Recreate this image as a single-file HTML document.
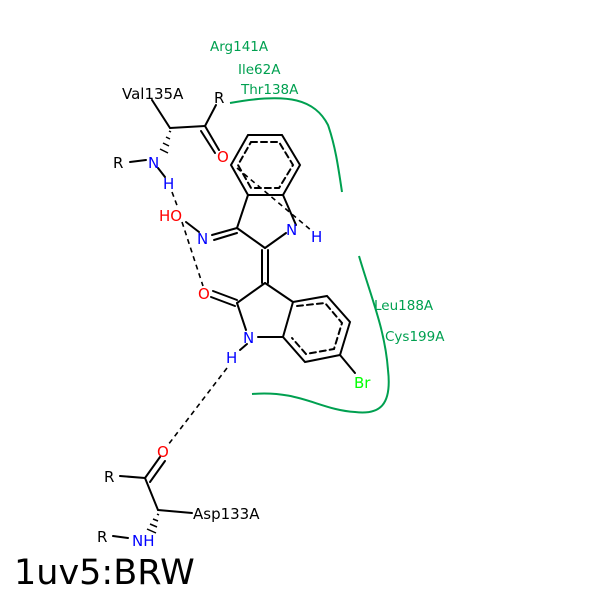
<!DOCTYPE html>
<html><head><meta charset="utf-8"><style>
html,body{margin:0;padding:0;background:#fff;width:600px;height:600px;overflow:hidden}
svg{display:block}
text{font-family:"DejaVu Sans","Liberation Sans",sans-serif;font-size:15px}
</style></head><body>
<svg width="600" height="600" viewBox="0 0 600 600" xmlns="http://www.w3.org/2000/svg">
<rect width="600" height="600" fill="#fff"/>
<g fill="none" stroke="#00a050" stroke-width="2">
<path d="M230,103 C290,92 315,100 328,125 C335,145 338,165 342,192"/>
<path d="M359,256 C372,300 385,330 388,370 C392,405 380,415 355,412 C320,410 300,390 252,394"/>
</g>
<g fill="#00a050">
<text x="210" y="51" style="font-size:13.5px">Arg141A</text>
<text x="238" y="74" style="font-size:13.5px">Ile62A</text>
<text x="241" y="94" style="font-size:13.5px">Thr138A</text>
<text x="374" y="310" style="font-size:13.5px">Leu188A</text>
<text x="385" y="341" style="font-size:13.5px">Cys199A</text>
</g>
<g stroke="#000" stroke-width="2" fill="none" stroke-linecap="round">
<polygon points="248,135 282,135 300,165 283,195 248,195 231,165"/>
<polygon points="251,142 279,142 293,165 279,188 251,188 238,165" stroke-dasharray="6,4"/>
<line x1="248" y1="195" x2="237" y2="228"/>
<line x1="237" y1="228" x2="265" y2="248"/>
<line x1="265" y1="248" x2="286" y2="233"/>
<line x1="296" y1="225" x2="283" y2="195"/>
<line x1="237" y1="228" x2="212" y2="235"/><line x1="237" y1="233" x2="214" y2="240"/>
<line x1="199" y1="232" x2="186" y2="222"/>
<line x1="262" y1="250" x2="262" y2="283"/><line x1="268" y1="250" x2="268" y2="283"/>
<line x1="265" y1="283" x2="237" y2="303"/>
<line x1="265" y1="283" x2="293" y2="302"/>
<line x1="237" y1="303" x2="246" y2="330"/>
<line x1="258" y1="337" x2="283" y2="337"/>
<line x1="237" y1="300" x2="213" y2="291"/><line x1="235" y1="306" x2="211" y2="297"/>
<polygon points="293,302 327,296 350,322 340,355 305,362 283,337"/>
<polyline points="297,306 325,303 342,323 334,349 306,354 292,338" stroke-dasharray="6,4"/>
<line x1="340" y1="355" x2="355" y2="373"/>
<line x1="247" y1="344" x2="240" y2="350"/>
<line x1="170" y1="128" x2="152" y2="100"/>
<line x1="170" y1="128" x2="205" y2="126"/>
<line x1="205" y1="126" x2="216" y2="105"/>
<line x1="205" y1="126" x2="219" y2="150"/><line x1="201" y1="131" x2="215" y2="153"/>
<line x1="130" y1="162" x2="146" y2="160"/>
<line x1="158" y1="168" x2="165" y2="177"/>
<line x1="145" y1="478" x2="158" y2="510"/>
<line x1="158" y1="510" x2="192" y2="513"/>
<line x1="145" y1="478" x2="120" y2="476"/>
<line x1="145" y1="478" x2="160" y2="457"/><line x1="150" y1="482" x2="165" y2="461"/>
<line x1="113" y1="536" x2="128" y2="538"/>
</g>
<g stroke="#000" stroke-width="1.5">
<line x1="169" y1="131" x2="171" y2="132"/><line x1="166" y1="137" x2="170" y2="139"/>
<line x1="163" y1="143" x2="169" y2="146"/><line x1="160" y1="149" x2="168" y2="153"/>
<line x1="157" y1="514" x2="159" y2="515"/><line x1="153" y1="519" x2="158" y2="521"/>
<line x1="150" y1="524" x2="157" y2="527"/><line x1="147" y1="529" x2="156" y2="533"/>
</g>
<g stroke="#000" stroke-width="1.6" stroke-dasharray="5,4" fill="none">
<line x1="172" y1="192" x2="178" y2="208"/>
<line x1="182" y1="222" x2="203" y2="286"/>
<line x1="237" y1="168" x2="312" y2="231"/>
<line x1="227" y1="368" x2="168" y2="445"/>
</g>
<g>
<text x="122" y="99" fill="#000">Val135A</text>
<text x="214" y="103" fill="#000">R</text>
<text x="217" y="162" fill="#f00">O</text>
<text x="113" y="168" fill="#000">R</text>
<text x="148" y="168" fill="#00f">N</text>
<text x="163" y="189" fill="#00f">H</text>
<text x="159" y="221" fill="#f00">HO</text>
<text x="197" y="244" fill="#00f">N</text>
<text x="286" y="235" fill="#00f">N</text>
<text x="311" y="242" fill="#00f">H</text>
<text x="198" y="299" fill="#f00">O</text>
<text x="243" y="343" fill="#00f">N</text>
<text x="226" y="363" fill="#00f">H</text>
<text x="354" y="388" fill="#0f0">Br</text>
<text x="157" y="457" fill="#f00">O</text>
<text x="104" y="482" fill="#000">R</text>
<text x="193" y="519" fill="#000">Asp133A</text>
<text x="97" y="542" fill="#000">R</text>
<text x="132" y="546" fill="#00f">NH</text>
</g>
<text x="14" y="584" style="font-size:35px" fill="#000">1uv5:BRW</text>
</svg>
</body></html>
